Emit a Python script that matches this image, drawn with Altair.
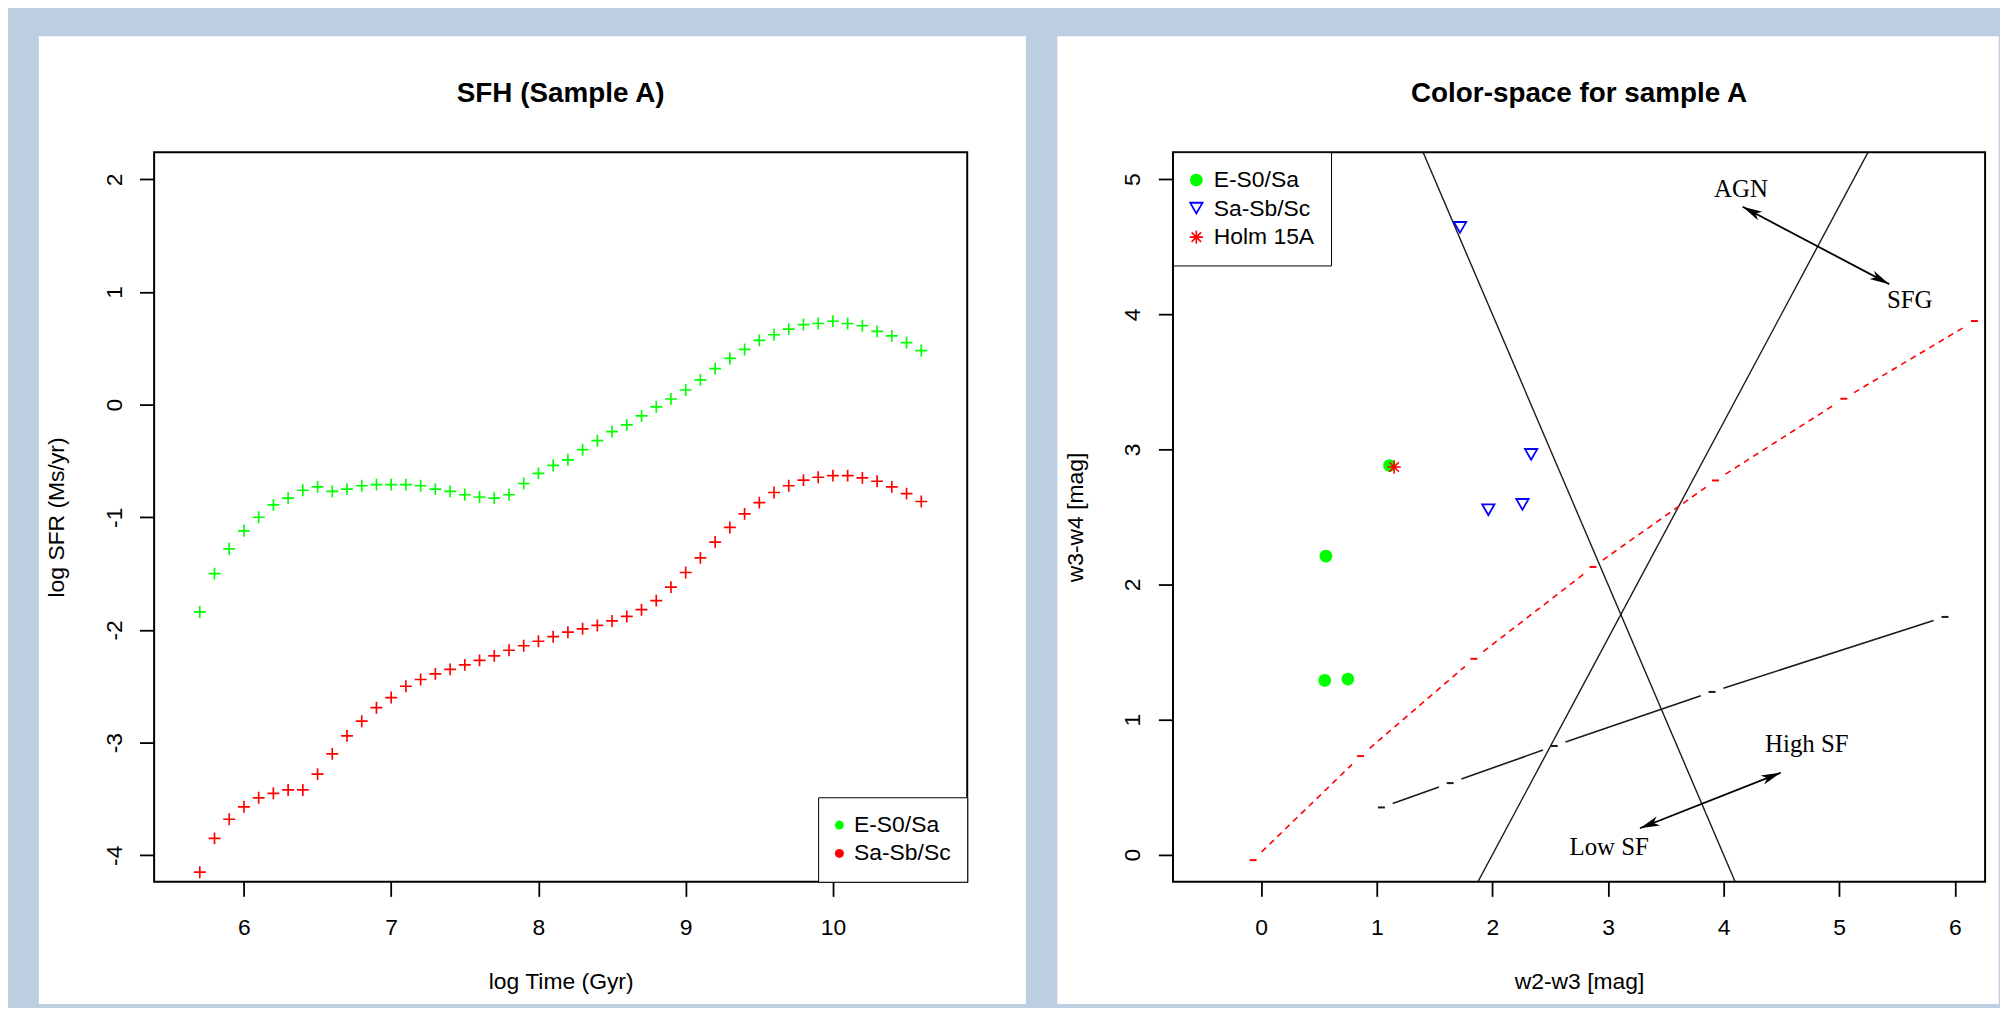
import math
import altair as alt
import pandas as pd

# ---------------- left panel data: SFH (Sample A) ----------------
log_time = [5.7, 5.8, 5.9, 6.0, 6.1, 6.2, 6.3, 6.4, 6.5, 6.6,
            6.7, 6.8, 6.9, 7.0, 7.1, 7.2, 7.3, 7.4, 7.5, 7.6,
            7.7, 7.8, 7.9, 8.0, 8.1, 8.2, 8.3, 8.4, 8.5, 8.6,
            8.7, 8.8, 8.9, 9.0, 9.1, 9.2, 9.3, 9.4, 9.5, 9.6,
            9.7, 9.8, 9.9, 10.0, 10.1, 10.2, 10.3, 10.4, 10.5, 10.6]
sfr_es0_sa = [-1.84, -1.50, -1.28, -1.12, -1.00, -0.89, -0.83, -0.76, -0.73, -0.77,
              -0.75, -0.72, -0.71, -0.71, -0.71, -0.72, -0.75, -0.77, -0.80, -0.82,
              -0.83, -0.80, -0.70, -0.61, -0.54, -0.49, -0.40, -0.32, -0.24, -0.18,
              -0.10, -0.02, 0.05, 0.13, 0.22, 0.32, 0.41, 0.49, 0.57, 0.62,
              0.67, 0.71, 0.72, 0.74, 0.72, 0.70, 0.65, 0.61, 0.55, 0.48]
sfr_sa_sb_sc = [-4.15, -3.85, -3.68, -3.57, -3.49, -3.45, -3.42, -3.42, -3.28, -3.10,
                -2.94, -2.81, -2.69, -2.60, -2.50, -2.44, -2.39, -2.35, -2.31, -2.27,
                -2.23, -2.18, -2.14, -2.10, -2.06, -2.02, -1.99, -1.96, -1.92, -1.88,
                -1.82, -1.74, -1.62, -1.49, -1.36, -1.22, -1.09, -0.97, -0.87, -0.78,
                -0.72, -0.67, -0.645, -0.63, -0.63, -0.65, -0.68, -0.73, -0.79, -0.86]
sfh_names = ["E-S0/Sa", "Sa-Sb/Sc"]
sfh_colors = ["#00FF00", "#FF0000"]
left_x_ticks = [6, 7, 8, 9, 10]
left_y_ticks = [-4, -3, -2, -1, 0, 1, 2]

# ---------------- right panel data: colour space ----------------
es0_w23 = [0.56, 0.55, 0.75, 1.11]
es0_w34 = [2.21, 1.29, 1.30, 2.88]
sasb_w23 = [1.72, 2.335, 1.965, 2.26]
sasb_w34 = [4.64, 2.96, 2.55, 2.59]
holm_w23 = [1.15]
holm_w34 = [2.87]
cs_names = ["E-S0/Sa", "Sa-Sb/Sc", "Holm 15A"]
cs_colors = ["#00FF00", "#0000FF", "#FF0000"]

red_track_w23 = [-0.07, 0.86, 1.84, 2.87, 3.93, 5.04, 6.17]
red_track_w34 = [-0.04, 0.73, 1.45, 2.13, 2.77, 3.375, 3.95]
black_track_w23 = [1.04, 1.635, 2.535, 3.90, 5.915]
black_track_w34 = [0.35, 0.53, 0.805, 1.205, 1.76]

boundary_x_start = [1.30, 1.75]
boundary_y_start = [5.40, -0.40]
boundary_x_end = [4.20, 5.375]
boundary_y_end = [-0.40, 5.40]

arrow_x_start = [4.165, 3.276]
arrow_y_start = [4.796, 0.196]
arrow_x_end = [5.433, 4.495]
arrow_y_end = [4.223, 0.607]

label_text = ["AGN", "SFG", "High SF", "Low SF"]
label_x = [4.15, 5.61, 4.72, 3.01]
label_y = [4.865, 4.05, 0.76, 0.0]

right_x_ticks = [0, 1, 2, 3, 4, 5, 6]
right_y_ticks = [0, 1, 2, 3, 4, 5]

titles = ["SFH (Sample A)", "Color-space for sample A"]

# ---------------- layout / style ----------------
SANS = "Liberation Sans"
SERIF = "Liberation Serif"
BG = "#BDCEE0"
WL, WR, H = 818, 817, 734
XDOM_L, YDOM_L = [5.39, 10.912], [-4.235, 2.241]
XDOM_R, YDOM_R = [-0.763, 6.262], [-0.2, 5.2]

PLUS = "M-1,-0.14L1,-0.14L1,0.14L-1,0.14Z M-0.14,-1L0.14,-1L0.14,1L-0.14,1Z"
DISK = "M0.88,0A0.88,0.88 0 1,1 -0.88,0A0.88,0.88 0 1,1 0.88,0Z"
TRI_DOWN = ("M-1.07,-0.93L1.07,-0.93L0,0.93Z "
            "M-0.639,-0.68L0,0.43L0.639,-0.68Z")
ASTER = ("M-0.93,-0.11L0.93,-0.11L0.93,0.11L-0.93,0.11Z "
         "M-0.11,-0.93L0.11,-0.93L0.11,0.93L-0.11,0.93Z "
         "M-0.736,-0.58L-0.58,-0.736L0.736,0.58L0.58,0.736Z "
         "M-0.58,0.736L-0.736,0.58L0.58,-0.736L0.736,-0.58Z")
DASH = "M-1,0L1,0"
HEAD = "M0,0L0.55,2.3L0,1.7L-0.55,2.3Z"

ONE = alt.Data(values=[{"k": 1}])


def axis_x(values, title):
    return alt.Axis(values=values, title=title, labelExpr="'' + datum.value",
                    labelBaseline="alphabetic", labelPadding=38.5,
                    titleY=107.7, titleBaseline="alphabetic", zindex=1)


def axis_y(values, title):
    return alt.Axis(values=values, title=title, labelExpr="'' + datum.value",
                    labelAngle=270, labelAlign="center", labelBaseline="alphabetic",
                    labelPadding=18.6, titleAngle=270, titleX=-91.5,
                    titleBaseline="alphabetic", zindex=1)


def panel(x_left, x_right):
    return alt.Chart(ONE).mark_rect(fill="white").encode(
        x=alt.value(x_left), x2=alt.value(x_right),
        y=alt.value(-116.7), y2=alt.value(857))


def frame():
    return alt.Chart(ONE).mark_rect(fill="transparent", stroke="black", strokeWidth=2).encode(
        x=alt.value(0), x2=alt.value("width"), y=alt.value(0), y2=alt.value("height"))


def title_text(text, width):
    return alt.Chart(ONE).mark_text(font=SANS, fontSize=28, fontWeight="bold",
                                    baseline="alphabetic", align="center",
                                    color="black").encode(
        x=alt.value(width / 2), y=alt.value(-50.2), text=alt.value(text))


# ---------------- left chart ----------------
XL = alt.X("x:Q", scale=alt.Scale(domain=XDOM_L, nice=False, zero=False),
           axis=axis_x(left_x_ticks, "log Time (Gyr)"))
YL = alt.Y("y:Q", scale=alt.Scale(domain=YDOM_L, nice=False, zero=False),
           axis=axis_y(left_y_ticks, "log SFR (Ms/yr)"))

sfh = pd.DataFrame({
    "x": log_time + log_time,
    "y": sfr_es0_sa + sfr_sa_sb_sc,
    "series": [sfh_names[0]] * len(log_time) + [sfh_names[1]] * len(log_time),
})

left_legend = alt.Legend(title=None, orient="bottom-right", offset=0, symbolType="circle",
                         symbolSize=81, symbolStrokeWidth=0, labelFont=SANS,
                         labelFontSize=23, labelColor="black", padding=16.5,
                         symbolOffset=-6.6, labelOffset=3.2, rowPadding=4.5,
                         strokeColor="black", fillColor="white")

left_pts = alt.Chart(sfh).mark_point(shape=PLUS, filled=True, size=144, opacity=1).encode(
    x=XL, y=YL,
    color=alt.Color("series:N", scale=alt.Scale(domain=sfh_names, range=sfh_colors),
                    legend=left_legend),
)

left = alt.layer(panel(-116, 877), left_pts, frame(), title_text(titles[0], WL)).properties(
    width=WL, height=H)

# ---------------- right chart ----------------
XR = alt.X("x:Q", scale=alt.Scale(domain=XDOM_R, nice=False, zero=False),
           axis=axis_x(right_x_ticks, "w2-w3 [mag]"))
YR = alt.Y("y:Q", scale=alt.Scale(domain=YDOM_R, nice=False, zero=False),
           axis=axis_y(right_y_ticks, "w3-w4 [mag]"))
X2 = alt.X2("x2:Q")
Y2 = alt.Y2("y2:Q")

SX = WR / (XDOM_R[1] - XDOM_R[0])
SY = H / (YDOM_R[1] - YDOM_R[0])


def gapped_segments(xs, ys, gap=12.0):
    rows = []
    for i in range(len(xs) - 1):
        dx, dy = xs[i + 1] - xs[i], ys[i + 1] - ys[i]
        f = gap / math.hypot(dx * SX, dy * SY)
        rows.append({"x": xs[i] + f * dx, "y": ys[i] + f * dy,
                     "x2": xs[i + 1] - f * dx, "y2": ys[i + 1] - f * dy})
    return pd.DataFrame(rows)


boundaries = pd.DataFrame({"x": boundary_x_start, "y": boundary_y_start,
                           "x2": boundary_x_end, "y2": boundary_y_end})
bound_layer = alt.Chart(boundaries).mark_rule(color="#1a1a1a", strokeWidth=1.4, clip=True).encode(
    x=XR, y=YR, x2=X2, y2=Y2)

red_seg = alt.Chart(gapped_segments(red_track_w23, red_track_w34)).mark_rule(
    color="#FF0000", strokeWidth=1.6, strokeDash=[6, 5]).encode(x=XR, y=YR, x2=X2, y2=Y2)
red_pts = alt.Chart(pd.DataFrame({"x": red_track_w23, "y": red_track_w34})).mark_point(
    shape=DASH, size=49, strokeWidth=2, filled=False, opacity=1, color="#FF0000").encode(x=XR, y=YR)

blk_seg = alt.Chart(gapped_segments(black_track_w23, black_track_w34)).mark_rule(
    color="#1a1a1a", strokeWidth=1.6).encode(x=XR, y=YR, x2=X2, y2=Y2)
blk_pts = alt.Chart(pd.DataFrame({"x": black_track_w23, "y": black_track_w34})).mark_point(
    shape=DASH, size=49, strokeWidth=2, filled=False, opacity=1, color="#1a1a1a").encode(x=XR, y=YR)

arrows = pd.DataFrame({"x": arrow_x_start, "y": arrow_y_start,
                       "x2": arrow_x_end, "y2": arrow_y_end})
arrow_lines = alt.Chart(arrows).mark_rule(color="black", strokeWidth=1.8).encode(
    x=XR, y=YR, x2=X2, y2=Y2)

head_rows = []
for xa, ya, xb, yb in zip(arrow_x_start, arrow_y_start, arrow_x_end, arrow_y_end):
    ang = math.degrees(math.atan2((xb - xa) * SX, (yb - ya) * SY)) % 360
    head_rows.append({"x": xb, "y": yb, "angle": ang})
    head_rows.append({"x": xa, "y": ya, "angle": (ang + 180) % 360})
heads = alt.Chart(pd.DataFrame(head_rows)).mark_point(
    shape=HEAD, filled=True, size=300, opacity=1, color="black").encode(
    x=XR, y=YR, angle=alt.Angle("angle:Q", scale=None))

labels = alt.Chart(pd.DataFrame({"x": label_x, "y": label_y, "label": label_text})).mark_text(
    font=SERIF, fontSize=25, baseline="alphabetic", align="center", color="black").encode(
    x=XR, y=YR, text="label:N")

scat = pd.DataFrame({
    "x": es0_w23 + sasb_w23 + holm_w23,
    "y": es0_w34 + sasb_w34 + holm_w34,
    "series": [cs_names[0]] * len(es0_w23) + [cs_names[1]] * len(sasb_w23)
              + [cs_names[2]] * len(holm_w23),
})
right_legend = alt.Legend(title=None, orient="top-left", offset=0, symbolSize=210,
                          symbolStrokeWidth=0, labelFont=SANS, labelFontSize=23,
                          labelColor="black", padding=16.5, symbolOffset=-4.5,
                          labelOffset=6, rowPadding=4.75, strokeColor="black",
                          fillColor="white")
scat_layer = alt.Chart(scat).mark_point(filled=True, size=210, opacity=1).encode(
    x=XR, y=YR,
    color=alt.Color("series:N", scale=alt.Scale(domain=cs_names, range=cs_colors),
                    legend=right_legend),
    shape=alt.Shape("series:N", scale=alt.Scale(domain=cs_names, range=[DISK, TRI_DOWN, ASTER]),
                    legend=right_legend),
)

right = alt.layer(panel(-116.3, 830.7), bound_layer, red_seg, red_pts, blk_seg, blk_pts,
                  arrow_lines, heads, labels, scat_layer, frame(),
                  title_text(titles[1], WR)).properties(width=WR, height=H)

chart = alt.hconcat(left, right, spacing=30).resolve_scale(
    color="independent", shape="independent").resolve_legend(
    color="independent", shape="independent").properties(
    padding={"left": 30, "top": 24, "right": 0, "bottom": 0}
).configure(background=BG).configure_view(stroke="transparent").configure_axis(
    labelFont=SANS, labelFontSize=23, labelColor="black",
    titleFont=SANS, titleFontSize=23, titleFontWeight="normal", titleColor="black",
    tickColor="black", tickWidth=1.8, tickSize=14.7, domain=False, grid=False,
    labelFlush=False, labelOverlap=False)

chart.save("out.html", embed_options={"renderer": "svg", "actions": False})
